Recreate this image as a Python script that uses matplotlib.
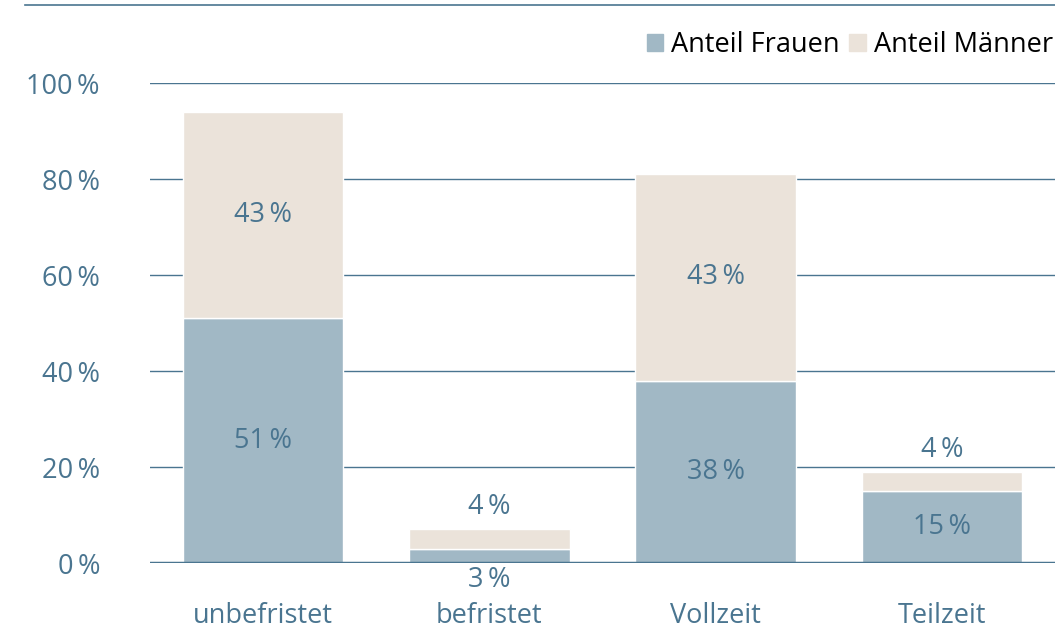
import matplotlib.pyplot as plt
from matplotlib.lines import Line2D
from matplotlib.patches import Patch

plt.rcParams['font.family'] = ['Open Sans', 'DejaVu Sans']

# data
categories = ['unbefristet', 'befristet', 'Vollzeit', 'Teilzeit']
frauen = [51, 3, 38, 15]
maenner = [43, 4, 43, 4]
yticks = [0, 20, 40, 60, 80, 100]

c_frauen = '#a1b8c5'
c_maenner = '#ebe3da'
c_text = '#4a7590'
c_line = '#4a7590'

fig = plt.figure(figsize=(10.55, 6.28), dpi=100)
ax = fig.add_axes([150 / 1055, 1 - 563 / 628, 1 - 150 / 1055, (563 - 83) / 628])

x = range(len(categories))
ax.bar(x, frauen, width=0.71, color=c_frauen, edgecolor='white', linewidth=1, zorder=3)
ax.bar(x, maenner, width=0.71, bottom=frauen, color=c_maenner, edgecolor='white', linewidth=1, zorder=3)

fs = 19.5
sp = '\u2009'
for i, (f, m) in enumerate(zip(frauen, maenner)):
    # Frauen label
    if f >= 5:
        ax.text(i, f / 2, f'{f}{sp}%', ha='center', va='center', color=c_text, fontsize=fs, zorder=4)
    else:
        ax.text(i, -3.6, f'{f}{sp}%', ha='center', va='center', color=c_text, fontsize=fs, zorder=4)
    # Männer label
    if m >= 5:
        ax.text(i, f + m / 2, f'{m}{sp}%', ha='center', va='center', color=c_text, fontsize=fs, zorder=4)
    else:
        ax.text(i, f + m + 4.6, f'{m}{sp}%', ha='center', va='center', color=c_text, fontsize=fs, zorder=4)

ax.set_xlim(-0.5, 3.5)
ax.set_ylim(0, 100)
ax.set_yticks(yticks)
ax.set_yticklabels([f'{v}{sp}%' for v in yticks])
ax.set_xticks(list(x))
ax.set_xticklabels(categories)
ax.tick_params(axis='y', length=0, pad=36, labelsize=fs, labelcolor=c_text)
ax.tick_params(axis='x', length=0, pad=28, labelsize=fs, labelcolor=c_text)

for v in yticks[1:]:
    ax.axhline(v, color=c_line, linewidth=1, zorder=1)
ax.axhline(0, color=c_line, linewidth=2.5, zorder=5)
for s in ax.spines.values():
    s.set_visible(False)
ax.set_facecolor('none')

# top rule
fig.add_artist(Line2D([25 / 1055, 1], [1 - 5 / 628, 1 - 5 / 628], color=c_line, linewidth=1.2))

handles = [Patch(color=c_frauen, label='Anteil Frauen'), Patch(color=c_maenner, label='Anteil Männer')]
fig.legend(handles=handles, loc='center right', bbox_to_anchor=(0.998, 1 - 45 / 628), ncol=2,
           frameon=False, fontsize=fs, handlelength=0.6, handleheight=0.6, handletextpad=0.3,
           columnspacing=0.35, borderaxespad=0, borderpad=0)

fig.savefig('out.png', dpi=100)
